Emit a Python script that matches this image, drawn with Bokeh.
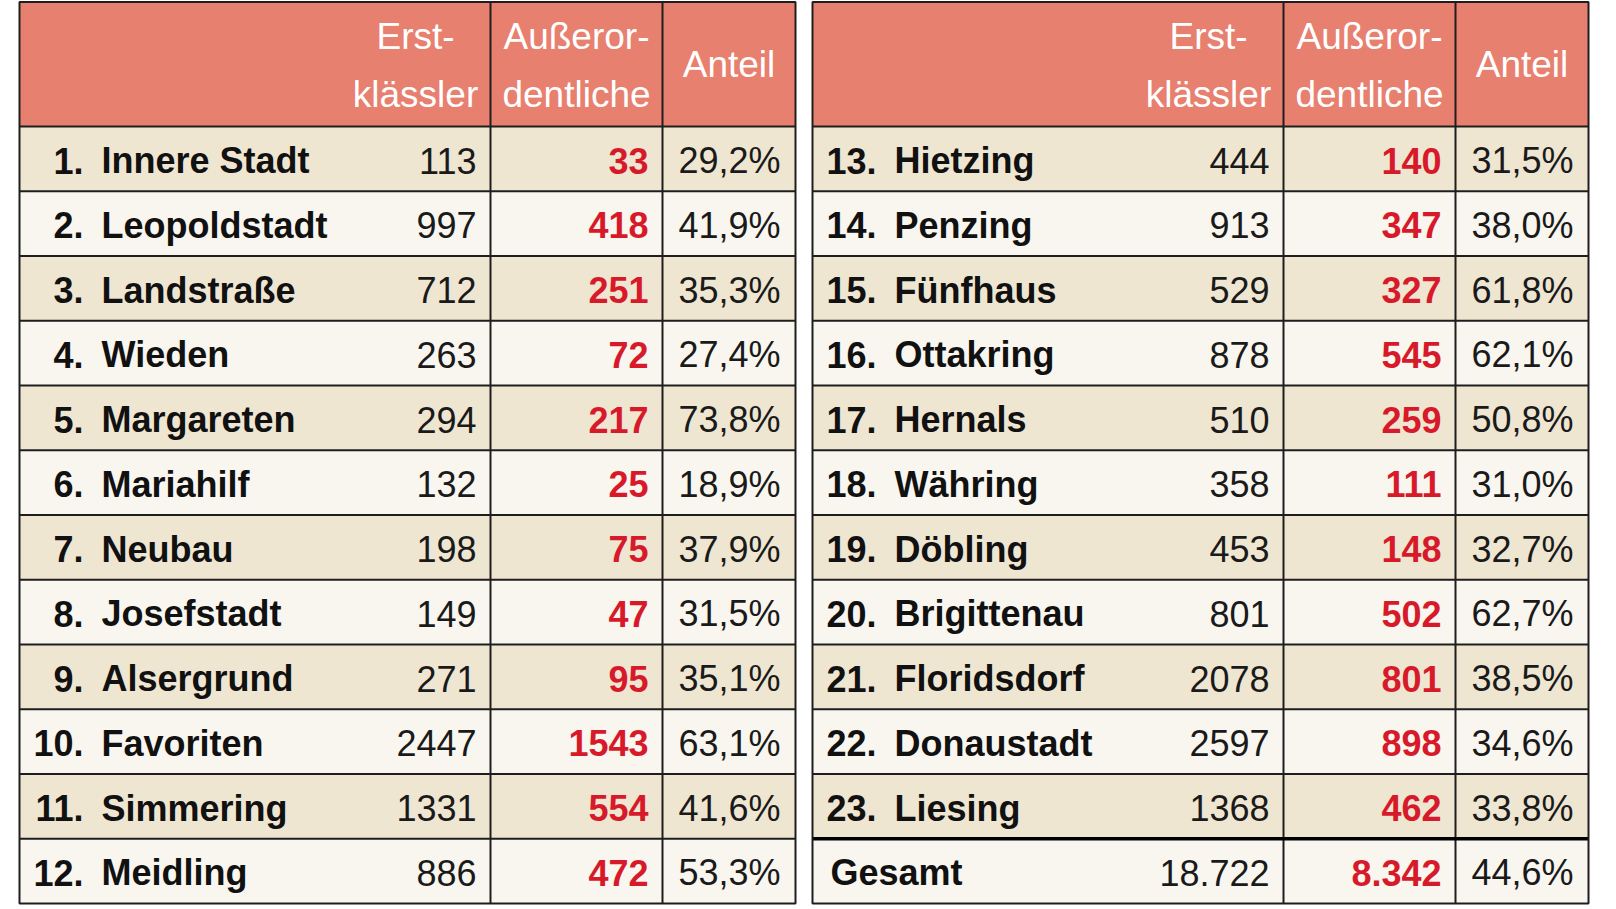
from bokeh.plotting import figure
from bokeh.models import ColumnDataSource, Range1d
from bokeh.core.properties import value
from bokeh.embed import file_html
from bokeh.resources import INLINE

# ---------------- data ----------------
districts = ["Innere Stadt", "Leopoldstadt", "Landstraße", "Wieden", "Margareten",
             "Mariahilf", "Neubau", "Josefstadt", "Alsergrund", "Favoriten",
             "Simmering", "Meidling", "Hietzing", "Penzing", "Fünfhaus", "Ottakring",
             "Hernals", "Währing", "Döbling", "Brigittenau", "Floridsdorf",
             "Donaustadt", "Liesing"]
erstklaessler = [113, 997, 712, 263, 294, 132, 198, 149, 271, 2447, 1331, 886,
                 444, 913, 529, 878, 510, 358, 453, 801, 2078, 2597, 1368]
ausserordentliche = [33, 418, 251, 72, 217, 25, 75, 47, 95, 1543, 554, 472,
                     140, 347, 327, 545, 259, 111, 148, 502, 801, 898, 462]
anteil = [29.2, 41.9, 35.3, 27.4, 73.8, 18.9, 37.9, 31.5, 35.1, 63.1, 41.6, 53.3,
          31.5, 38.0, 61.8, 62.1, 50.8, 31.0, 32.7, 62.7, 38.5, 34.6, 33.8]
total_label = "Gesamt"
total_erst = 18722
total_ao = 8342
total_anteil = 44.6
header_cols = [["Erst-", "klässler"], ["Außeror-", "dentliche"], ["Anteil"]]

# ---------------- layout ----------------
W, H = 1616, 909
FONT = "Liberation Sans"
FS = "36px"
HEAD_BG = "#E8806F"
ROW_A = "#EFE6D2"
ROW_B = "#F9F6EF"
RED = "#D71A2A"
LINE = "#1E1E1E"

TOP = 1.5
HEAD_BOT = 126.0
ROW_H = (903.0 - HEAD_BOT) / 12
tables_x = [19.0, 812.0]
TW = 776.0
c1, c2 = 471.0, 643.0  # column boundaries relative to table left


def fmt_total(v):
    return f"{v:,}".replace(",", ".")


def fmt_pct(v):
    return f"{v:.1f}".replace(".", ",") + "%"


p = figure(width=W, height=H, output_backend="svg", toolbar_location=None,
           x_range=Range1d(0, W), y_range=Range1d(H, 0),
           min_border=0, outline_line_color=None)
p.axis.visible = False
p.grid.visible = False
p.background_fill_color = "white"
p.border_fill_color = "white"

rows = []
for i, name in enumerate(districts):
    t = 0 if i < 12 else 1
    r = i if i < 12 else i - 12
    rows.append((t, r, f"{i + 1}.", name, str(erstklaessler[i]),
                 str(ausserordentliche[i]), fmt_pct(anteil[i])))
rows.append((1, 11, "", total_label, fmt_total(total_erst), fmt_total(total_ao),
             fmt_pct(total_anteil)))

# background rectangles
bx, by, bw, bh, bc = [], [], [], [], []
for tx in tables_x:
    bx.append(tx + TW / 2); by.append((TOP + HEAD_BOT) / 2)
    bw.append(TW); bh.append(HEAD_BOT - TOP); bc.append(HEAD_BG)
    for r in range(12):
        bx.append(tx + TW / 2); by.append(HEAD_BOT + ROW_H * (r + 0.5))
        bw.append(TW); bh.append(ROW_H); bc.append(ROW_A if r % 2 == 0 else ROW_B)
p.rect(x=bx, y=by, width=bw, height=bh, fill_color=bc, line_color=None)

# grid lines
x0s, y0s, x1s, y1s = [], [], [], []
for tx in tables_x:
    for r in range(1, 12):
        y = HEAD_BOT + ROW_H * r
        x0s.append(tx); x1s.append(tx + TW); y0s.append(y); y1s.append(y)
    x0s.append(tx); x1s.append(tx + TW); y0s.append(HEAD_BOT); y1s.append(HEAD_BOT)
    for cx in (c1, c2):
        x0s.append(tx + cx); x1s.append(tx + cx); y0s.append(TOP); y1s.append(903.0)
p.segment(x0=x0s, y0=y0s, x1=x1s, y1=y1s, line_color=LINE, line_width=2)
gy = HEAD_BOT + ROW_H * 11
p.segment(x0=[tables_x[1]], y0=[gy], x1=[tables_x[1] + TW], y1=[gy],
          line_color="#000000", line_width=3.5)
p.rect(x=[tx + TW / 2 for tx in tables_x], y=[(TOP + 903.0) / 2] * 2,
       width=[TW] * 2, height=[903.0 - TOP] * 2, fill_color=None,
       line_color=LINE, line_width=2)

# header texts
hx, hy, ht = [], [], []
for tx in tables_x:
    centers = [tx + 396, tx + (c1 + c2) / 2, tx + (c2 + TW) / 2]
    for cx, lines in zip(centers, header_cols):
        if len(lines) == 2:
            for k, s in enumerate(lines):
                hx.append(cx); hy.append(36 + 58 * k); ht.append(s)
        else:
            hx.append(cx); hy.append(64); ht.append(lines[0])
p.text(x=hx, y=hy, text=ht, text_align="center", text_baseline="middle",
       text_color="white", text_font=value(FONT), text_font_size="37px")

# body texts
num_src = dict(x=[], y=[], t=[])
name_src = dict(x=[], y=[], t=[])
erst_src = dict(x=[], y=[], t=[])
ao_src = dict(x=[], y=[], t=[])
ant_src = dict(x=[], y=[], t=[])
for t, r, num, name, e, a, an in rows:
    tx = tables_x[t]
    yc = HEAD_BOT + ROW_H * r + 34
    if num:
        num_src["x"].append(tx + 64); num_src["y"].append(yc); num_src["t"].append(num)
        name_src["x"].append(tx + 82)
    else:
        name_src["x"].append(tx + 18)
    name_src["y"].append(yc); name_src["t"].append(name)
    erst_src["x"].append(tx + 457); erst_src["y"].append(yc); erst_src["t"].append(e)
    ao_src["x"].append(tx + 629); ao_src["y"].append(yc); ao_src["t"].append(a)
    ant_src["x"].append(tx + 761); ant_src["y"].append(yc); ant_src["t"].append(an)

common = dict(text_baseline="middle", text_font=value(FONT), text_font_size=FS)
p.text(x="x", y="y", text="t", source=ColumnDataSource(num_src), text_align="right",
       text_color="#111111", text_font_style="bold", **common)
p.text(x="x", y="y", text="t", source=ColumnDataSource(name_src), text_align="left",
       text_color="#111111", text_font_style="bold", **common)
p.text(x="x", y="y", text="t", source=ColumnDataSource(erst_src), text_align="right",
       text_color="#1a1a1a", **common)
p.text(x="x", y="y", text="t", source=ColumnDataSource(ao_src), text_align="right",
       text_color=RED, text_font_style="bold", **common)
p.text(x="x", y="y", text="t", source=ColumnDataSource(ant_src), text_align="right",
       text_color="#1a1a1a", **common)

open("out.html", "w").write(file_html(p, INLINE))
